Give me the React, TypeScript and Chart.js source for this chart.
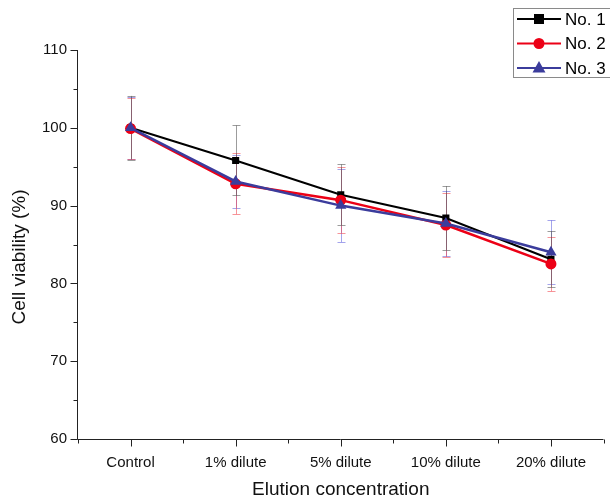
import React, { useEffect, useRef } from "react";
import { Chart, registerables } from "chart.js";

Chart.register(...registerables);

const categories = ["Control", "1% dilute", "5% dilute", "10% dilute", "20% dilute"];
const seriesNames = ["No. 1", "No. 2", "No. 3"];
const no1 = [100.0, 95.8, 91.4, 88.4, 83.1];
const no2 = [99.9, 92.8, 90.7, 87.5, 82.5];
const no3 = [100.0, 93.1, 90.0, 87.7, 84.0];
const err1 = [4.1, 4.5, 3.9, 4.1, 3.6];
const err2 = [3.9, 3.9, 4.2, 4.1, 3.5];
const err3 = [4.0, 3.4, 4.7, 4.2, 4.1];
const yTicks = [60, 70, 80, 90, 100, 110];
const yTitle = "Cell viability (%)";
const xTitle = "Elution concentration";

const lineColors = ["#000000", "#ec0016", "#3b3c9c"];
const errColors = ["rgba(90,90,90,0.6)", "rgba(240,60,70,0.55)", "rgba(90,90,220,0.55)"];
const markers = ["rect", "circle", "triangle"];
const errs = [err1, err2, err3];

const FONT = "'Liberation Sans', Arial, sans-serif";

const errorBarPlugin = {
  id: "errorBars",
  beforeDatasetsDraw(chart: any) {
    const { ctx } = chart;
    const x = chart.scales.x;
    const y = chart.scales.y;
    ctx.save();
    ctx.lineWidth = 1;
    for (let d = chart.data.datasets.length - 1; d >= 0; d--) {
      const ds = chart.data.datasets[d];
      const e = errs[d];
      ctx.strokeStyle = errColors[d];
      ds.data.forEach((v: number, i: number) => {
        const px = Math.round(x.getPixelForValue(i)) + 0.5;
        const top = y.getPixelForValue(v + e[i]);
        const bot = y.getPixelForValue(v - e[i]);
        ctx.beginPath();
        ctx.moveTo(px, top);
        ctx.lineTo(px, bot);
        ctx.moveTo(px - 4, Math.round(top) + 0.5);
        ctx.lineTo(px + 4, Math.round(top) + 0.5);
        ctx.moveTo(px - 4, Math.round(bot) + 0.5);
        ctx.lineTo(px + 4, Math.round(bot) + 0.5);
        ctx.stroke();
      });
    }
    ctx.restore();
  },
};

const axesPlugin = {
  id: "axesTicks",
  afterDraw(chart: any) {
    const { ctx, chartArea } = chart;
    const x = chart.scales.x;
    const y = chart.scales.y;
    ctx.save();
    ctx.strokeStyle = "#222";
    ctx.lineWidth = 1;
    ctx.beginPath();
    const ax = Math.round(chartArea.left) - 0.5;
    const ay = Math.round(chartArea.bottom) + 0.5;
    ctx.moveTo(ax, chartArea.top);
    ctx.lineTo(ax, ay);
    ctx.lineTo(chartArea.right, ay);
    for (let v = y.min; v <= y.max; v += 5) {
      const py = Math.round(y.getPixelForValue(v)) + 0.5;
      const len = v % 10 === 0 ? 7 : 4;
      ctx.moveTo(ax, py);
      ctx.lineTo(ax - len, py);
    }
    const n = categories.length;
    for (let i = 0; i < n; i++) {
      const px = Math.round(x.getPixelForValue(i)) + 0.5;
      ctx.moveTo(px, ay);
      ctx.lineTo(px, ay + 7);
    }
    for (let i = 0; i <= n; i++) {
      const px = Math.round(x.getPixelForValue(i - 0.5)) + 0.5;
      ctx.moveTo(px, ay);
      ctx.lineTo(px, ay + 4);
    }
    ctx.stroke();

    // y title
    ctx.save();
    ctx.translate(20, 257);
    ctx.rotate(-Math.PI / 2);
    ctx.font = "19px " + FONT;
    ctx.fillStyle = "#111";
    ctx.textAlign = "center";
    ctx.textBaseline = "middle";
    ctx.fillText(yTitle, 0, 0);
    ctx.restore();

    // legend
    const bx = 513.5, by = 8.5, bw = 110, bh = 69;
    ctx.strokeStyle = "#8a8a8a";
    ctx.strokeRect(bx, by, bw, bh);
    const rows = [19, 43.5, 68];
    ctx.font = "17px " + FONT;
    ctx.textBaseline = "middle";
    ctx.textAlign = "left";
    for (let d = 0; d < 3; d++) {
      const ry = rows[d];
      ctx.strokeStyle = lineColors[d];
      ctx.fillStyle = lineColors[d];
      ctx.lineWidth = 2;
      ctx.beginPath();
      ctx.moveTo(517, ry);
      ctx.lineTo(561, ry);
      ctx.stroke();
      const mx = 539;
      ctx.beginPath();
      if (markers[d] === "rect") {
        ctx.fillRect(mx - 5, ry - 5, 10, 10);
      } else if (markers[d] === "circle") {
        ctx.arc(mx, ry, 5.5, 0, Math.PI * 2);
        ctx.fill();
      } else {
        ctx.moveTo(mx, ry - 7);
        ctx.lineTo(mx + 6.5, ry + 4.5);
        ctx.lineTo(mx - 6.5, ry + 4.5);
        ctx.closePath();
        ctx.fill();
      }
      ctx.fillStyle = "#000";
      ctx.fillText(seriesNames[d], 565, ry + 1);
    }
    ctx.restore();
  },
};

export default function App() {
  const ref = useRef<HTMLCanvasElement>(null);
  useEffect(() => {
    if (!ref.current) return;
    const values = [no1, no2, no3];
    const chart = new Chart(ref.current, {
      type: "line",
      data: {
        labels: categories,
        datasets: values.map((vals, d) => ({
          label: seriesNames[d],
          data: vals,
          borderColor: lineColors[d],
          backgroundColor: lineColors[d],
          borderWidth: d === 0 ? 2 : 2.5,
          pointStyle: markers[d] as any,
          pointRadius: d === 0 ? 5 : d === 1 ? 5.5 : 6.5,
          pointBorderWidth: 0,
          tension: 0,
          order: 3 - d,
        })),
      },
      options: {
        responsive: false,
        animation: false,
        layout: { padding: { left: 0, top: 50, right: 2, bottom: 0 } },
        plugins: { legend: { display: false }, tooltip: { enabled: false } },
        scales: {
          x: {
            type: "category",
            offset: true,
            border: { display: false },
            grid: { display: false, drawTicks: false },
            ticks: { color: "#111", font: { family: FONT, size: 15 }, padding: 15, maxRotation: 0 },
            title: { display: true, text: xTitle, color: "#111", font: { family: FONT, size: 19 }, padding: { top: 0, bottom: 1 } },
            afterFit: (s: any) => { s.height = 63; },
          },
          y: {
            min: 60,
            max: 110,
            border: { display: false },
            grid: { display: false, drawTicks: false },
            afterBuildTicks: (s: any) => { s.ticks = yTicks.map((v) => ({ value: v })); },
            ticks: { color: "#111", font: { family: FONT, size: 15 }, padding: 11 },
            title: { display: false },
            afterFit: (s: any) => { s.width = 78; },
          },
        },
      },
      plugins: [errorBarPlugin, axesPlugin],
    });
    return () => chart.destroy();
  }, []);
  return (
    <div style={{ position: "absolute", left: 0, top: 0, width: 610, height: 502, background: "#fff" }}>
      <canvas ref={ref} width={610} height={502} />
    </div>
  );
}
